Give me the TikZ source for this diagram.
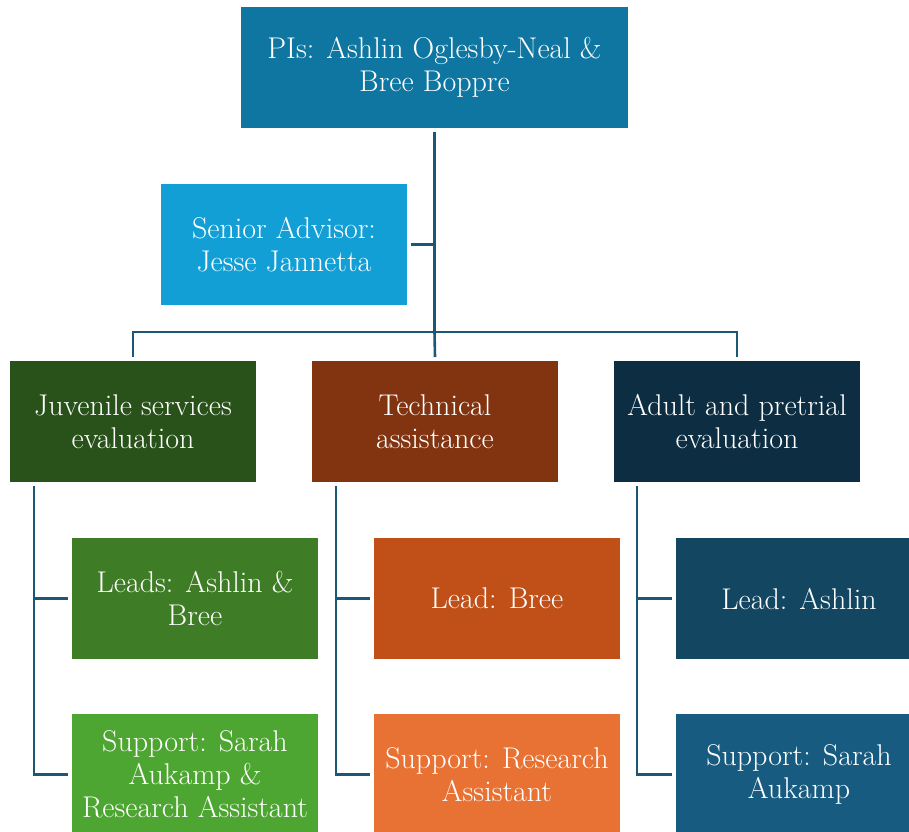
\documentclass[tikz,border=0pt]{standalone}
\usetikzlibrary{positioning}
\definecolor{piblue}{RGB}{14,118,160}
\definecolor{advblue}{RGB}{17,159,214}
\definecolor{juvgreen}{RGB}{40,82,25}
\definecolor{techbrown}{RGB}{130,52,17}
\definecolor{adnavy}{RGB}{13,46,66}
\definecolor{leadgreen}{RGB}{62,125,38}
\definecolor{leadorange}{RGB}{192,80,24}
\definecolor{leadblue}{RGB}{19,70,96}
\definecolor{supgreen}{RGB}{78,166,50}
\definecolor{suporange}{RGB}{232,114,52}
\definecolor{supblue}{RGB}{23,92,128}
\definecolor{linkblue}{RGB}{27,88,118}
\tikzset{orgbox/.style={rectangle, minimum width=246pt, minimum height=121pt, inner sep=0pt,
    outer sep=4pt, text=white, align=center, font=\fontsize{30}{33}\selectfont},
  link/.style={draw=linkblue, line width=2.6pt}}

\begin{document}
\begin{tikzpicture}[x=1pt, y=-1pt]
  \useasboundingbox (0,0) rectangle (909,831);
  \node[orgbox, fill=piblue, minimum width=387pt] (pi) at (434.5,67.5) {PIs: Ashlin Oglesby-Neal \&\\Bree Boppre};
  \node[orgbox, fill=advblue] (advisor) at (284,244.5) {Senior Advisor:\\Jesse Jannetta};
  \node[orgbox, fill=juvgreen] (juv) at (133,421.5) {Juvenile services\\evaluation};
  \node[orgbox, fill=techbrown] (tech) [right=48pt of juv] {Technical\\assistance};
  \node[orgbox, fill=adnavy] (adult) [right=48pt of tech] {Adult and pretrial\\evaluation};
  \node[orgbox, fill=leadgreen] (juvlead) at (195,598.5) {Leads: Ashlin \&\\Bree};
  \node[orgbox, fill=leadorange] (techlead) [right=48pt of juvlead] {Lead: Bree};
  \node[orgbox, fill=leadblue] (adlead) [right=48pt of techlead] {Lead: Ashlin};
  \node[orgbox, fill=supgreen] (juvsup) at (195,774.5) {Support: Sarah\\Aukamp \&\\Research Assistant};
  \node[orgbox, fill=suporange] (techsup) [right=48pt of juvsup] {Support: Research\\Assistant};
  \node[orgbox, fill=supblue] (adsup) [right=48pt of techsup] {Support: Sarah\\Aukamp};
  % connectors
  \coordinate (hub) at (434.5,332);
  \coordinate (juvspine) at (34,486);
  \coordinate (techspine) at (336,486);
  \coordinate (adspine) at (637,486);
  \path[link] (pi.south) -- (hub);
  \path[link] (advisor.east) -- (advisor.east -| hub);
  \path[link] (juv.north) |- (hub) -| (adult.north);
  \path[link] (tech.north) -- (hub);
  \path[link] (juvspine) |- (juvlead.west);
  \path[link] (juvspine) |- (juvsup.west);
  \path[link] (techspine) |- (techlead.west);
  \path[link] (techspine) |- (techsup.west);
  \path[link] (adspine) |- (adlead.west);
  \path[link] (adspine) |- (adsup.west);
\end{tikzpicture}
\end{document}
